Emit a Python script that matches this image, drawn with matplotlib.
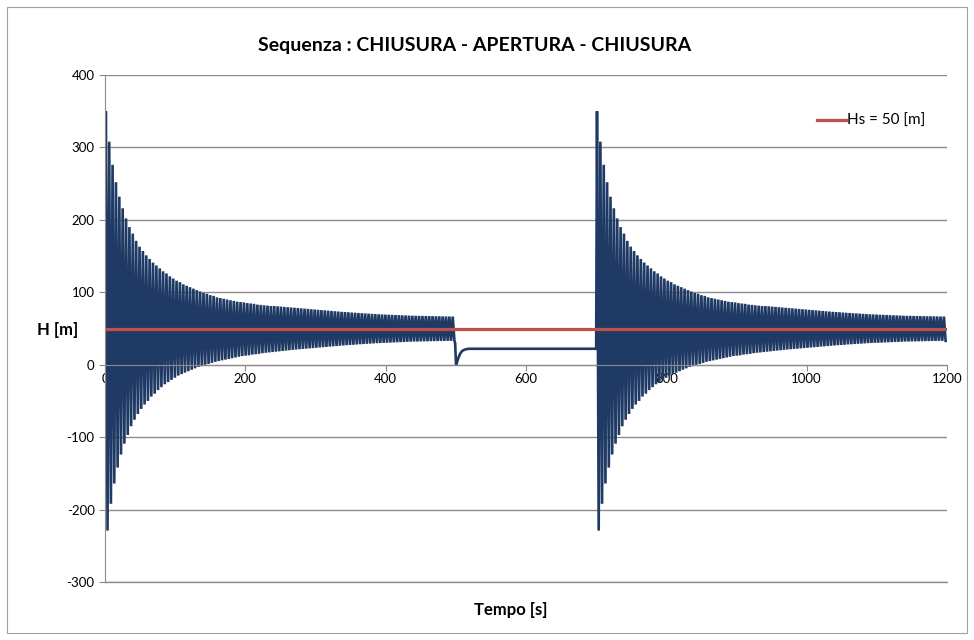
import matplotlib
matplotlib.use("Agg")
import matplotlib.pyplot as plt
from matplotlib.patches import Rectangle
import numpy as np

plt.rcParams["font.family"] = ["Lato", "DejaVu Sans"]
plt.rcParams["axes.unicode_minus"] = False

NAVY = "#1F3A64"
RED = "#C0504D"
GRID = "#8C8C8C"

# peak heads, one value per cycle (same for both closures)
PERIOD = 4.8
START_H = 22
UPPER = [
    350, 308, 276, 252, 232, 216, 202, 190, 181, 171,
    163, 157, 151, 146, 141, 137, 133, 129, 126, 122,
    119, 116, 114, 111, 109, 107, 105, 103, 101, 99,
    98, 96, 95, 93, 92, 91, 90, 89, 88, 87,
    86.5, 86, 85, 84.5, 84, 83, 82.5, 82, 81.5, 81,
    81, 80.6, 80.2, 79.8, 79.4, 79, 78.6, 78.2, 77.8, 77.4,
    77, 76.6, 76.2, 75.8, 75.4, 75, 74.6, 74.2, 73.8, 73.4,
    73, 72.7, 72.4, 72, 71.7, 71.4, 71.1, 70.8, 70.5, 70.2,
    69.9, 69.6, 69.4, 69.2, 69, 68.8, 68.6, 68.4, 68.2, 68,
    67.8, 67.6, 67.5, 67.4, 67.3, 67.2, 67.1, 67, 66.9, 66.8,
    66.7, 66.6, 66.5, 66.5,
]
LOWER = [
    -229, -192, -164, -142, -124, -109, -97, -85, -76, -68,
    -61, -55, -50, -44, -40, -35, -31, -27, -24, -21,
    -18, -15, -13, -11, -9, -7, -5, -3, -2, 0,
    1, 2.5, 4, 5, 6, 7, 8, 9, 10, 11,
    12, 12.5, 13, 14, 14.5, 15, 16, 16.5, 17, 17.5,
    18, 18.5, 19, 19.5, 20, 20.5, 21, 21.4, 21.8, 22.2,
    22.6, 23, 23.4, 23.8, 24.2, 24.6, 25, 25.4, 25.8, 26.2,
    26.6, 27, 27.3, 27.6, 28, 28.3, 28.6, 28.9, 29.2, 29.5,
    29.8, 30, 30.2, 30.4, 30.6, 30.8, 31, 31.2, 31.4, 31.6,
    31.8, 32, 32.1, 32.2, 32.3, 32.4, 32.5, 32.6, 32.7, 32.8,
    32.9, 33, 33, 33,
]
CLOSURE_TIMES = [0, 700]

# opening transient between the two closures
OPEN_T = [499.0, 500.3, 501.5, 503.5, 506, 509, 513, 518, 700]
OPEN_H = [30, 0, 3, 9, 15, 19, 21, 22, 22]

HS = 50
T_RANGE = [0, 1200]


def closure(t0):
    t, h = [t0], [START_H]
    for k, (u, l) in enumerate(zip(UPPER, LOWER)):
        t += [t0 + (k + 0.25) * PERIOD, t0 + (k + 0.75) * PERIOD]
        h += [u, l]
    return t, h


t1, h1 = closure(CLOSURE_TIMES[0])
t2, h2 = closure(CLOSURE_TIMES[1])
tt = np.array(t1 + OPEN_T + t2[1:])
hh = np.array(h1 + OPEN_H + h2[1:])

fig = plt.figure(figsize=(9.74, 6.4), dpi=100)
ax = fig.add_axes([105 / 974, 1 - 582 / 640, 842 / 974, 507 / 640])

ax.plot(tt, hh, color=NAVY, linewidth=1.9, solid_joinstyle="miter")
ax.plot(T_RANGE, [HS, HS], color=RED, linewidth=2.3, label="Hs = 50 [m]")

ax.set_xlim(0, 1200)
ax.set_ylim(-300, 400)
ax.set_xticks(np.arange(0, 1201, 200))
ax.set_yticks(np.arange(-300, 401, 100))
ax.yaxis.grid(True, color=GRID, linewidth=1)
ax.axhline(-300, color=GRID, linewidth=1, clip_on=False, zorder=0)
ax.set_axisbelow(True)

for s in ["top", "right"]:
    ax.spines[s].set_visible(False)
ax.spines["bottom"].set_position(("data", 0))
ax.spines["bottom"].set_color(GRID)
ax.spines["left"].set_color(GRID)
ax.tick_params(axis="both", colors=GRID, labelcolor="black", labelsize=9.5,
               length=4, direction="out")
ax.tick_params(axis="x", pad=2)

ax.legend(loc="upper right", bbox_to_anchor=(0.99, 0.95), frameon=False,
          fontsize=11, handlelength=1.9, handletextpad=0.05)

fig.text(475 / 974, 1 - 45 / 640, "Sequenza : CHIUSURA - APERTURA - CHIUSURA",
         ha="center", va="center", fontsize=14, fontweight="bold")
fig.text(58 / 974, 1 - 330 / 640, "H [m]", ha="center", va="center",
         fontsize=12, fontweight="bold")
fig.text(511 / 974, 1 - 610 / 640, "Tempo [s]", ha="center", va="center",
         fontsize=12, fontweight="bold")

fig.patches.append(Rectangle((7 / 974, 7 / 640), 960 / 974, 626 / 640,
                             transform=fig.transFigure, fill=False,
                             edgecolor="#A0A0A0", linewidth=0.8))

fig.savefig("out.png", dpi=100)
